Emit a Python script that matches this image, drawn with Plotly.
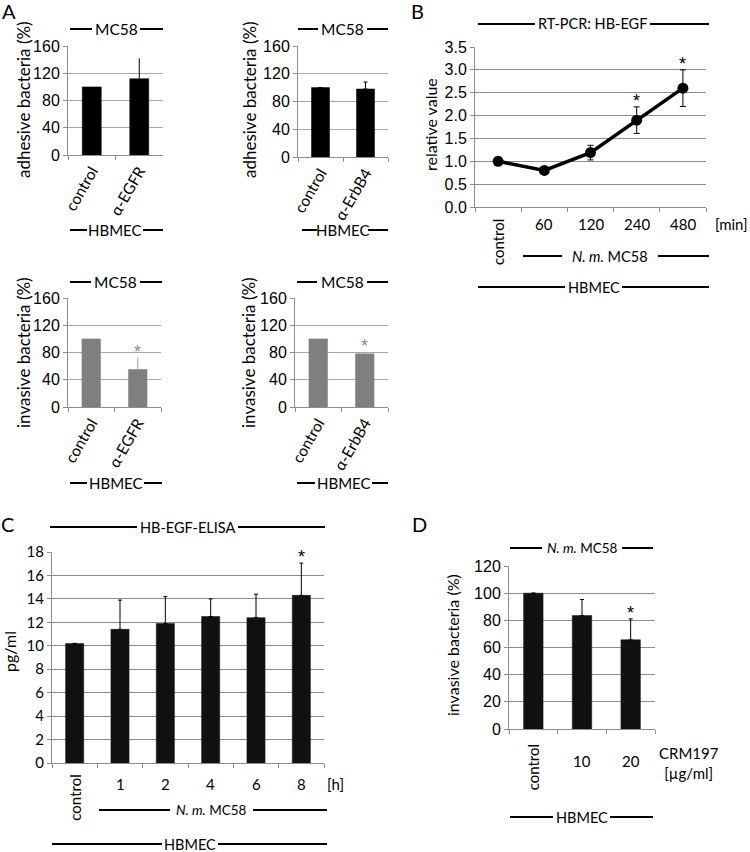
import plotly.graph_objects as go

W, H = 750, 852
def px(x): return x / W
def py(y): return 1 - y / H

# ---------------- data ----------------
a1_cats = ["control", "α-EGFR"]
a1_vals = [100, 112]
a1_err = [0, 30]
a2_cats = ["control", "α-ErbB4"]
a2_vals = [100, 98]
a2_err = [0, 10]
a3_cats = ["control", "α-EGFR"]
a3_vals = [100, 55]
a3_err = [0, 17]
a4_cats = ["control", "α-ErbB4"]
a4_vals = [100, 78]
a4_err = [0, 3]
b_cats = ["control", "60", "120", "240", "480"]
b_vals = [1.0, 0.8, 1.19, 1.9, 2.6]
b_err = [0, 0.08, 0.16, 0.29, 0.4]
c_cats = ["control", "1", "2", "4", "6", "8"]
c_vals = [10.2, 11.4, 11.9, 12.5, 12.4, 14.3]
c_err = [0, 2.5, 2.3, 1.5, 2.0, 2.75]
d_cats = ["control", "10", "20"]
d_vals = [100, 83.5, 65.7]
d_err = [0, 11.8, 15.4]

ARIAL = "Liberation Sans, Arial"
TXT = "Lato, Open Sans"
GRID = "#a6a6a6"
AX = "#8c8c8c"

fig = go.Figure()
layout = dict(width=W, height=H, margin=dict(l=0, r=0, t=0, b=0, autoexpand=False), autosize=False,
              plot_bgcolor="white", paper_bgcolor="white", showlegend=False,
              bargap=0.6)
annotations = []
shapes = []

def add_axes(i, xd, yd, rng, dtick, tickfont, fmt=None, showticklabels=False, tickangle=0, xfont=None, ncat=2):
    xa = "xaxis" if i == 1 else f"xaxis{i}"
    ya = "yaxis" if i == 1 else f"yaxis{i}"
    layout[xa] = dict(domain=[px(xd[0]), px(xd[1])], anchor=f"y{i}" if i > 1 else "y",
                      type="category", range=[-0.5, ncat - 0.5], showgrid=False,
                      showline=True, linecolor=AX, linewidth=1, ticks="outside",
                      tickson="boundaries", ticklen=4, tickcolor=AX,
                      showticklabels=showticklabels, tickangle=tickangle,
                      tickfont=xfont or dict(family=TXT, size=16, color="black"),
                      zeroline=False, fixedrange=True, automargin=False)
    layout[ya] = dict(domain=[py(yd[1]), py(yd[0])], anchor=f"x{i}" if i > 1 else "x",
                      range=rng, dtick=dtick, showgrid=True, gridcolor=GRID, gridwidth=1,
                      showline=True, linecolor=AX, linewidth=1, ticks="outside",
                      ticklen=4, tickcolor=AX, tickfont=tickfont, zeroline=False,
                      tickformat=fmt, fixedrange=True, automargin=False)

def ref(i):
    return ("x" if i == 1 else f"x{i}"), ("y" if i == 1 else f"y{i}")

def bar(i, cats, vals, err, color, errcolor, errwidth):
    xr, yr = ref(i)
    fig.add_trace(go.Bar(x=cats, y=vals, xaxis=xr, yaxis=yr,
                         marker=dict(color=color, line=dict(color=color, width=0.5)),
                         error_y=dict(type="data", symmetric=False, array=err,
                                      arrayminus=[0] * len(err), color=errcolor,
                                      thickness=1, width=errwidth, visible=True)))

def star(i, k, y, color="black", size=18):
    xr, yr = ref(i)
    annotations.append(dict(xref=xr, yref=yr, x=k, y=y, text="*", showarrow=False,
                            xanchor="center", yanchor="bottom", yshift=-6,
                            font=dict(family=ARIAL, size=size, color=color)))

def line_label(segs, y, text, size=16):
    x0, xa, xb, x1 = segs
    for a, b in ((x0, xa), (xb, x1)):
        shapes.append(dict(type="line", xref="paper", yref="paper", x0=px(a), x1=px(b),
                           y0=py(y), y1=py(y), line=dict(color="black", width=2)))
    annotations.append(dict(xref="paper", yref="paper", x=px((xa + xb) / 2), y=py(y),
                            text=text, showarrow=False, xanchor="center", yanchor="middle",
                            font=dict(family=TXT, size=size, color="black")))

def txt(x, y, text, size=16, angle=0, family=TXT, xanchor="center", yanchor="middle"):
    annotations.append(dict(xref="paper", yref="paper", x=px(x), y=py(y), text=text,
                            showarrow=False, textangle=angle, xanchor=xanchor, yanchor=yanchor,
                            font=dict(family=family, size=size, color="black")))

def cat_label(i, k, y, text, size=15, angle=0):
    xr, _ = ref(i)
    annotations.append(dict(xref=xr, yref="paper", x=k, y=py(y), text=text, showarrow=False,
                            textangle=angle, xanchor="center", yanchor="middle",
                            font=dict(family=TXT, size=size, color="black")))

# ---------------- panel A ----------------
afont = dict(family=ARIAL, size=16, color="black")
xf = dict(family=TXT, size=15.5, color="black")
add_axes(1, (68, 163), (46, 155), [0, 160], 40, afont, showticklabels=True, tickangle=-60, xfont=xf)
add_axes(2, (298, 388), (46, 157), [0, 160], 40, afont, showticklabels=True, tickangle=-60, xfont=xf)
add_axes(3, (68, 161), (298, 407), [0, 160], 40, afont, showticklabels=True, tickangle=-60, xfont=xf)
add_axes(4, (295, 388), (298, 407), [0, 160], 40, afont, showticklabels=True, tickangle=-60, xfont=xf)
bar(1, a1_cats, a1_vals, a1_err, "black", "black", 0)
bar(2, a2_cats, a2_vals, a2_err, "black", "black", 2)
bar(3, a3_cats, a3_vals, a3_err, "#7f7f7f", "#9a9a9a", 0)
bar(4, a4_cats, a4_vals, a4_err, "#7f7f7f", "#9a9a9a", 0)
star(3, 1, a3_vals[1] + a3_err[1], color="#8a8a8a")
star(4, 1, a4_vals[1] + a4_err[1], color="#8a8a8a")

line_label((70, 92, 140, 163), 29, "MC58", 15.5)
line_label((298, 318, 367, 388), 29, "MC58", 15.5)
line_label((70, 91, 140, 162), 282, "MC58", 15.5)
line_label((297, 317, 367, 388), 282, "MC58", 15.5)
line_label((70, 87, 143, 163), 230, "HBMEC", 15)
line_label((302, 317, 368, 388), 230, "HBMEC", 15)
line_label((70, 87, 144, 162), 483, "HBMEC", 15)
line_label((297, 315, 372, 388), 483, "HBMEC", 15)
txt(23, 100, "adhesive bacteria (%)", 17, -90)
txt(249, 100, "adhesive bacteria (%)", 17, -90)
txt(24, 353, "invasive bacteria (%)", 17, -90)
txt(249, 353, "invasive bacteria (%)", 17, -90)
txt(9, 11, "A", 20)

# ---------------- panel B ----------------
bfont = dict(family=ARIAL, size=16, color="black")
add_axes(5, (475, 706), (47, 207), [0, 3.5], 0.5, bfont, fmt=".1f", ncat=5)
layout["yaxis5"]["gridcolor"] = "#8c8c8c"
fig.add_trace(go.Scatter(x=b_cats, y=b_vals, xaxis="x5", yaxis="y5", mode="lines+markers",
                         line=dict(color="black", width=3.5),
                         marker=dict(color="black", size=11),
                         error_y=dict(type="data", array=b_err, color="black",
                                      thickness=1, width=3)))
for k in [3, 4]:
    star(5, k, b_vals[k] + b_err[k])
for k, c in enumerate(b_cats):
    if c == "control":
        cat_label(5, k, 242, c, 15, -90)
    else:
        cat_label(5, k, 224, c, 15)
txt(731, 224, "[min]", 15)
line_label((478, 535, 650, 709), 24, "RT-PCR: HB-EGF", 14.5)
line_label((523, 562, 658, 709), 256, "<i>N. m.</i> MC58", 14.5)
line_label((478, 565, 622, 709), 287, "HBMEC", 14.5)
txt(430, 125, "relative value", 16, -90)
txt(417, 11, "B", 20)

# ---------------- panel C ----------------
cfont = dict(family=TXT, size=15, color="black")
add_axes(6, (52, 324), (552, 763), [0, 18], 2, cfont, ncat=6)
layout["yaxis6"]["gridcolor"] = "#8c8c8c"
bar(6, c_cats, c_vals, c_err, "#111111", "black", 2)
star(6, 5, c_vals[5] + c_err[5])
for k, c in enumerate(c_cats):
    if c == "control":
        cat_label(6, k, 798, c, 15, -90)
    else:
        cat_label(6, k, 784, c, 15)
txt(335, 784, "[h]", 15)
line_label((50, 137, 238, 325), 527, "HB-EGF-ELISA", 14.5)
line_label((99, 170, 253, 327), 810, "<i>N. m.</i> MC58", 13.5)
line_label((52, 162, 218, 327), 844, "HBMEC", 14.5)
txt(9, 652, "pg/ml", 16, -90)
txt(7, 524, "C", 20)

# ---------------- panel D ----------------
dfont = dict(family=ARIAL, size=16, color="black")
add_axes(7, (509, 655), (566, 729), [0, 120], 20, dfont, ncat=3)
layout["yaxis7"]["gridcolor"] = "#8c8c8c"
bar(7, d_cats, d_vals, d_err, "#111111", "black", 2)
star(7, 2, d_vals[2] + d_err[2])
for k, c in enumerate(d_cats):
    if c == "control":
        cat_label(7, k, 767, c, 15, -90)
    else:
        cat_label(7, k, 761, c, 15)
txt(689, 763, "CRM197<br>[µg/ml]", 15)
line_label((510, 542, 622, 653), 548, "<i>N. m.</i> MC58", 13.5)
line_label((510, 553, 610, 653), 817, "HBMEC", 14.5)
txt(452, 645, "invasive bacteria (%)", 16, -90)
txt(419, 524, "D", 20)

layout["annotations"] = annotations
layout["shapes"] = shapes
fig.update_layout(**layout)
fig.write_html("out.html", config={"displayModeBar": False},
               post_script="document.body.style.margin='0';document.body.style.overflow='hidden';")
